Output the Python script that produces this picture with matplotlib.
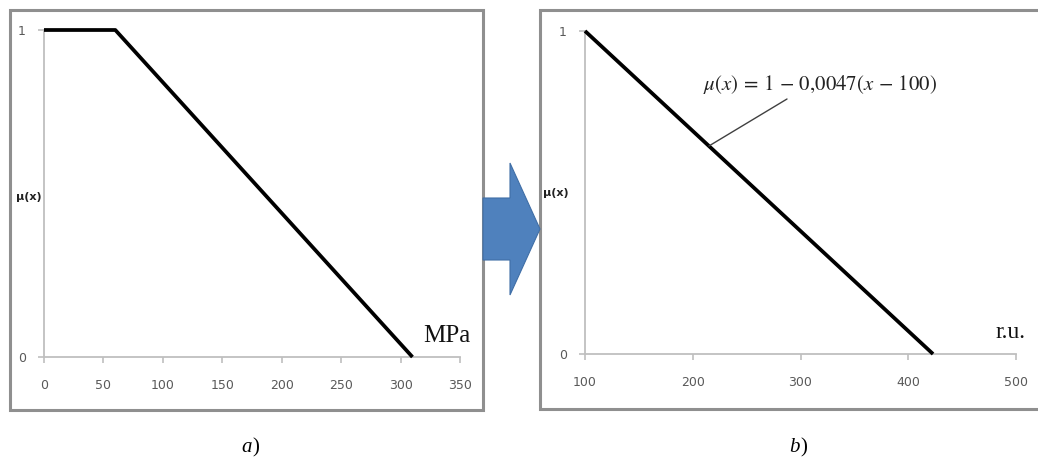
import numpy as np
import matplotlib
matplotlib.use("Agg")
import matplotlib.pyplot as plt
from matplotlib.patches import Rectangle, Polygon

plt.rcParams['mathtext.fontset'] = 'stix'

# ---- data ----
a_x = [0, 60, 310]
a_mu = [1, 1, 0]
a_xticks = [0, 50, 100, 150, 200, 250, 300, 350]
a_unit = "MPa"

b_x = [100, 423]
b_mu = [1, 0]
b_xticks = [100, 200, 300, 400, 500]
b_unit = "r.u."
b_formula = r"$\mu(x)\, =\, 1\, -\, 0{,}0047(x\, -\, 100)$"
b_anchor_x = 215

yticks = [0, 1]
ylabel = "μ(x)"
panel_labels = ["a", "b"]

W, H = 1038, 462
fig = plt.figure(figsize=(W / 100, H / 100), dpi=100)


def fx(x):
    return x / W


def fy(y):
    return 1 - y / H


def fpts(pts):
    return [(fx(x), fy(y)) for x, y in pts]


# frames
for (x0, y0, x1, y1) in [(10, 10, 483, 410), (540, 10, 1060, 409)]:
    fig.patches.append(Rectangle((fx(x0), fy(y1)), fx(x1) - fx(x0), fy(y0) - fy(y1),
                                 transform=fig.transFigure, facecolor='white',
                                 edgecolor='#8f8f8f', lw=2.2, zorder=-2))

# blue block arrow
arrow = [(483, 198), (510, 198), (510, 163), (540, 229), (510, 295), (510, 260), (483, 260)]
fig.patches.append(Polygon(fpts(arrow), closed=True, transform=fig.transFigure,
                           facecolor='#4f81bd', edgecolor='#3f6ea6', lw=0.8, zorder=-1))


def style(ax, xlim, xticks, xpad):
    ax.set_xlim(*xlim)
    ax.set_ylim(0, 1)
    ax.patch.set_visible(False)
    for s in ['top', 'right']:
        ax.spines[s].set_visible(False)
    for s in ['left', 'bottom']:
        ax.spines[s].set_color('#bfbfbf')
        ax.spines[s].set_linewidth(1.3)
    ax.set_xticks(xticks)
    ax.set_yticks(yticks)
    ax.tick_params(axis='both', colors='#bfbfbf', labelcolor='#595959',
                   labelsize=9, length=4, width=1.2, direction='out')
    ax.tick_params(axis='x', pad=xpad)
    ax.tick_params(axis='y', pad=9)


# panel a
ax1 = fig.add_axes([fx(44), fy(357), (460 - 44) / W, (357 - 30) / H])
style(ax1, (0, 350), a_xticks, 12)
ax1.plot(a_x, a_mu, color='black', lw=2.7, solid_capstyle='butt', clip_on=False, zorder=3)
fig.text(fx(29), fy(197), ylabel, fontsize=8, fontweight='bold', color='#222222',
         ha='center', va='center')
fig.text(fx(447), fy(336), a_unit, family='Liberation Serif', fontsize=18,
         color='#111111', ha='center', va='center')

# panel b
ax2 = fig.add_axes([fx(585), fy(354), (1016 - 585) / W, (354 - 31) / H])
style(ax2, (100, 500), b_xticks, 12)
ax2.plot(b_x, b_mu, color='black', lw=2.7, solid_capstyle='butt', clip_on=False, zorder=3)
fig.text(fx(556), fy(193), ylabel, fontsize=8, fontweight='bold', color='#222222',
         ha='center', va='center')
fig.text(fx(1011), fy(333), b_unit, family='Liberation Serif', fontsize=17,
         color='#111111', ha='center', va='center')

# formula annotation
anchor_y = float(np.interp(b_anchor_x, b_x, b_mu))
ax2.annotate('', xy=(b_anchor_x, anchor_y), xycoords='data',
             xytext=(fx(787), fy(99)), textcoords='figure fraction',
             arrowprops=dict(arrowstyle='-', color='#404040', lw=1.0,
                             shrinkA=0, shrinkB=0))
fig.text(fx(703), fy(85), b_formula, fontsize=15, color='#222222',
         ha='left', va='center')

# panel labels a) b)
for cx, lab in [(252, panel_labels[0]), (800, panel_labels[1])]:
    fig.text(fx(cx), fy(448), lab, family='Liberation Serif', style='italic',
             fontsize=15, ha='right', va='center', color='black')
    fig.text(fx(cx), fy(448), ")", family='Liberation Serif',
             fontsize=15, ha='left', va='center', color='black')

fig.savefig('out.png', dpi=100)
